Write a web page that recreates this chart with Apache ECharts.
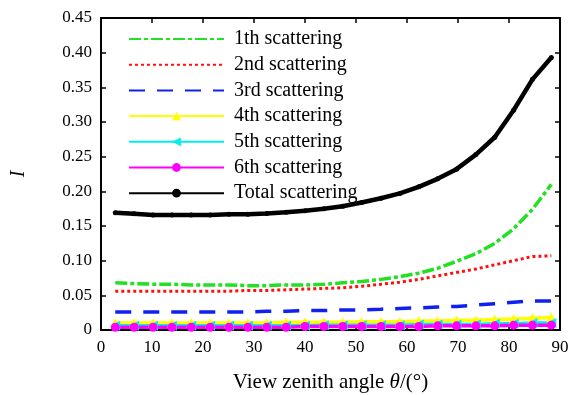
<!DOCTYPE html>
<html>
<head>
<meta charset="utf-8">
<script src="https://cdn.jsdelivr.net/npm/echarts@6/dist/echarts.min.js"></script>
<style>
  html, body {margin: 0; padding: 0; background: #fff;}
  #chart {width: 583px; height: 395px;}
</style>
</head>
<body>
<div id="chart"></div>
<script>
// view zenith angles (deg)
let angles = [2.8, 6.5, 10.2, 13.9, 17.7, 21.4, 25.1, 28.8, 32.5, 36.3, 40.0, 43.7,
              47.4, 51.1, 54.9, 58.6, 62.3, 66.0, 69.7, 73.5, 77.2, 80.9, 84.6, 88.3];

let scat1 = [0.068, 0.067, 0.066, 0.066, 0.065, 0.065, 0.065, 0.064, 0.064, 0.065, 0.065, 0.066,
             0.068, 0.070, 0.073, 0.077, 0.082, 0.089, 0.099, 0.110, 0.125, 0.146, 0.174, 0.210];
let scat2 = [0.056, 0.056, 0.056, 0.056, 0.056, 0.056, 0.056, 0.057, 0.057, 0.058, 0.059, 0.060,
             0.061, 0.063, 0.066, 0.069, 0.073, 0.078, 0.083, 0.088, 0.094, 0.100, 0.106, 0.107];
let scat3 = [0.026, 0.026, 0.026, 0.026, 0.026, 0.026, 0.026, 0.026, 0.027, 0.027, 0.028, 0.028,
             0.029, 0.029, 0.030, 0.031, 0.032, 0.033, 0.034, 0.036, 0.038, 0.040, 0.042, 0.042];
let scat4 = [0.010, 0.010, 0.010, 0.010, 0.010, 0.010, 0.010, 0.010, 0.010, 0.011, 0.011, 0.011,
             0.011, 0.012, 0.012, 0.012, 0.013, 0.013, 0.014, 0.014, 0.015, 0.016, 0.017, 0.018];
let scat5 = [0.006, 0.006, 0.006, 0.006, 0.006, 0.006, 0.006, 0.006, 0.006, 0.006, 0.006, 0.007,
             0.007, 0.007, 0.007, 0.007, 0.008, 0.008, 0.008, 0.008, 0.009, 0.009, 0.010, 0.010];
let scat6 = [0.004, 0.004, 0.004, 0.004, 0.004, 0.004, 0.004, 0.004, 0.004, 0.004, 0.005, 0.005,
             0.005, 0.005, 0.005, 0.005, 0.005, 0.006, 0.006, 0.006, 0.006, 0.007, 0.007, 0.007];
let total = [0.169, 0.1675, 0.166, 0.166, 0.166, 0.166, 0.167, 0.167, 0.168, 0.170, 0.172, 0.175,
             0.1785, 0.184, 0.190, 0.197, 0.2065, 0.218, 0.232, 0.253, 0.278, 0.317, 0.3615, 0.393];

let names = ['1th scattering', '2nd scattering', '3rd scattering', '4th scattering',
             '5th scattering', '6th scattering', 'Total scattering'];

function pairs(ys) {
  return ys.map(function(y, i) { return [angles[i], y]; });
}

let font = 'Liberation Serif';
let chart = echarts.init(document.getElementById('chart'));

function axisCommon() {
  return {
    axisLine: {show: true, onZero: false, lineStyle: {color: '#000', width: 2}},
    axisTick: {show: true, inside: true, length: 5, lineStyle: {color: '#000', width: 1.5}},
    splitLine: {show: false}
  };
}

// hide the symbol in the legend for plain dashed/dotted lines
let hidden = {opacity: 0};
let legendData = names.map(function(n, i) {
  return i < 3 ? {name: n, itemStyle: hidden} : {name: n};
});

let option = {
  animation: false,
  backgroundColor: '#fff',
  grid: {left: 101, right: 23, top: 18, bottom: 65, outerBoundsMode: 'none'},
  legend: {
    orient: 'vertical',
    left: 123,
    top: 24,
    itemWidth: 95,
    itemHeight: 11,
    itemGap: 5.7,
    textStyle: {fontFamily: font, fontSize: 20, lineHeight: 20, color: '#000', padding: [0, 0, 0, 5]},
    data: legendData
  },
  xAxis: [
    Object.assign({
      type: 'value', min: 0, max: 90, interval: 10, position: 'bottom',
      name: 'View zenith angle {i|θ}/(°)',
      nameLocation: 'middle', nameGap: 42,
      nameTextStyle: {fontFamily: font, fontSize: 21, color: '#000',
        rich: {i: {fontFamily: font, fontSize: 21, fontStyle: 'italic', color: '#000'}}},
      axisLabel: {fontFamily: font, fontSize: 17, color: '#000', margin: 9}
    }, axisCommon()),
    Object.assign({
      type: 'value', min: 0, max: 90, interval: 10, position: 'top',
      axisLabel: {show: false}
    }, axisCommon())
  ],
  yAxis: [
    Object.assign({
      type: 'value', min: 0, max: 0.45, interval: 0.05, position: 'left',
      name: 'I', nameLocation: 'middle', nameGap: 72,
      nameTextStyle: {fontFamily: font, fontSize: 20, fontStyle: 'italic', color: '#000'},
      axisLabel: {fontFamily: font, fontSize: 17, color: '#000', margin: 9,
        formatter: function(v) { return v === 0 ? '0' : v.toFixed(2); }}
    }, axisCommon()),
    Object.assign({
      type: 'value', min: 0, max: 0.45, interval: 0.05, position: 'right',
      axisLabel: {show: false}
    }, axisCommon())
  ],
  series: [
    {name: names[0], type: 'line', data: pairs(scat1), showSymbol: false, symbol: 'none',
     lineStyle: {color: '#22e022', width: 3.5, type: [12, 3, 4, 3]}, itemStyle: {color: '#22e022'}},
    {name: names[1], type: 'line', data: pairs(scat2), showSymbol: false, symbol: 'none',
     lineStyle: {color: '#ff1010', width: 3, type: [3, 3]}, itemStyle: {color: '#ff1010'}},
    {name: names[2], type: 'line', data: pairs(scat3), showSymbol: false, symbol: 'none',
     lineStyle: {color: '#1020ee', width: 3.5, type: [16, 12]}, itemStyle: {color: '#1020ee'}},
    {name: names[3], type: 'line', data: pairs(scat4), symbol: 'triangle', symbolSize: 10,
     lineStyle: {color: '#ffff00', width: 3.5}, itemStyle: {color: '#ffff00'}},
    {name: names[4], type: 'line', data: pairs(scat5), symbol: 'triangle', symbolSize: 10, symbolRotate: 90,
     lineStyle: {color: '#00eeee', width: 3.5}, itemStyle: {color: '#00eeee'}},
    {name: names[5], type: 'line', data: pairs(scat6), symbol: 'circle', symbolSize: 9,
     lineStyle: {color: '#ff00ff', width: 3.5}, itemStyle: {color: '#ff00ff'}},
    {name: names[6], type: 'line', data: pairs(total), symbol: 'circle', symbolSize: 5,
     lineStyle: {color: '#000', width: 4.5}, itemStyle: {color: '#000'}}
  ]
};

chart.setOption(option);
</script>
</body>
</html>
